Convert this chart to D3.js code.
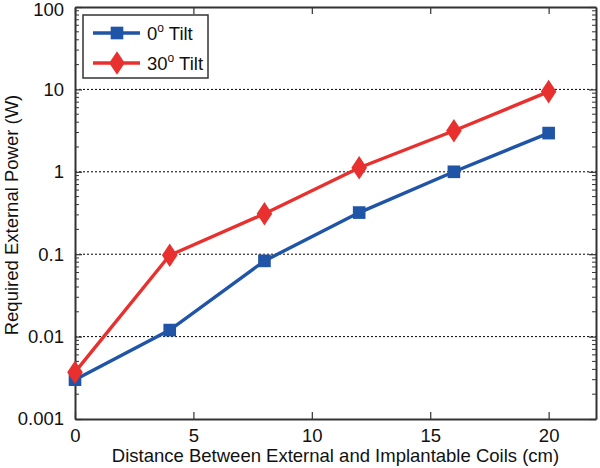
<!DOCTYPE html>
<html><head><meta charset="utf-8">
<script src="https://cdn.jsdelivr.net/npm/d3@7"></script>
<style>body{margin:0;background:#fff}svg{display:block}text{font-family:"Liberation Sans",Arial,sans-serif;fill:#111}</style>
</head><body><svg id="c" width="600" height="468"></svg>
<script>
const distances = [0, 4, 8, 12, 16, 20];
const tilt0 = [0.003, 0.012, 0.083, 0.32, 1.0, 2.95];
const tilt30 = [0.0037, 0.097, 0.31, 1.12, 3.15, 9.4];
const xTicks = [0, 5, 10, 15, 20];
const yTicks = [0.001, 0.01, 0.1, 1, 10, 100];
const yTickLabels = ["0.001", "0.01", "0.1", "1", "10", "100"];
const seriesNames = ["0\u00B0 Tilt", "30\u00B0 Tilt"];

const svg = d3.select("#c");
const L = 75, R = 596, T = 7, B = 419;
const x = d3.scaleLinear().domain([0, 22]).range([L, R]);
const y = d3.scaleLog().domain([0.001, 100]).range([B, T]);
const axisCol = "#333";
const FS = "18.5px";

// grid
svg.append("g").selectAll("line").data(yTicks.slice(1, -1)).join("line")
  .attr("x1", L).attr("x2", R).attr("y1", d => y(d)).attr("y2", d => y(d))
  .attr("stroke", "#000").attr("stroke-width", 1).attr("stroke-dasharray", "2,2");

// minor ticks
const minors = [];
for (let e = -3; e < 2; e++) for (let m = 2; m <= 9; m++) minors.push(m * Math.pow(10, e));

// axes
const gL = svg.append("g").attr("transform", `translate(${L},0)`)
  .call(d3.axisLeft(y).tickValues(yTicks).tickFormat((d, i) => yTickLabels[i]).tickSizeInner(-7).tickSizeOuter(0).tickPadding(11));
const gR = svg.append("g").attr("transform", `translate(${R},0)`)
  .call(d3.axisRight(y).tickValues(yTicks).tickFormat("").tickSizeInner(-7).tickSizeOuter(0));
const gB = svg.append("g").attr("transform", `translate(0,${B})`)
  .call(d3.axisBottom(x).tickValues(xTicks).tickSizeInner(-7).tickSizeOuter(0).tickPadding(10));
const gT = svg.append("g").attr("transform", `translate(0,${T})`)
  .call(d3.axisTop(x).tickValues(xTicks).tickFormat("").tickSizeInner(-7).tickSizeOuter(0));
[gL, gR].forEach((g, k) => {
  g.selectAll(".minor").data(minors).join("line").attr("class", "minor")
    .attr("x1", 0).attr("x2", k === 0 ? 4 : -4).attr("y1", d => y(d)).attr("y2", d => y(d))
    .attr("stroke", axisCol).attr("stroke-width", 1);
});
[gL, gR, gB, gT].forEach(g => {
  g.select(".domain").attr("stroke", axisCol).attr("stroke-width", 2);
  g.selectAll(".tick line").attr("stroke", axisCol).attr("stroke-width", 1.2);
  g.selectAll("text").style("font-size", FS).attr("fill", "#111");
});
gL.selectAll(".tick text").filter(d => d === 100).attr("dy", "0.45em");

// lines
const line = d3.line().x((d, i) => x(distances[i])).y(d => y(d));
const colors = ["#1f54a6", "#e8312f"];
[tilt0, tilt30].forEach((vals, k) => {
  svg.append("path").datum(vals).attr("d", line).attr("fill", "none")
    .attr("stroke", colors[k]).attr("stroke-width", 3.4);
});
const sq = d3.symbol().type(d3.symbolSquare).size(160);
const dm = d3.symbol().type(d3.symbolDiamond).size(160);
svg.append("g").selectAll("path").data(tilt0).join("path")
  .attr("d", sq).attr("transform", (d, i) => `translate(${x(distances[i])},${y(d)})`)
  .attr("fill", colors[0]);
svg.append("g").selectAll("path").data(tilt30).join("path")
  .attr("d", dm).attr("transform", (d, i) => `translate(${x(distances[i])},${y(d)}) scale(1.15,1)`)
  .attr("fill", colors[1]);

// legend
const lg = svg.append("g");
lg.append("rect").attr("x", 83).attr("y", 15).attr("width", 125).attr("height", 63)
  .attr("fill", "#fff").attr("stroke", axisCol).attr("stroke-width", 1.5);
[33, 63].forEach((ly, k) => {
  lg.append("line").attr("x1", 93).attr("x2", 140).attr("y1", ly).attr("y2", ly)
    .attr("stroke", colors[k]).attr("stroke-width", 3.4);
  lg.append("path").attr("d", k === 0 ? sq : dm)
    .attr("transform", `translate(117,${ly})` + (k === 1 ? " scale(1.15,1)" : "")).attr("fill", colors[k]);
  const t = lg.append("text").attr("x", 147).attr("y", ly + 7).style("font-size", FS);
  const parts = seriesNames[k].split("\u00B0");
  t.append("tspan").text(parts[0]);
  t.append("tspan").text("o").attr("dy", -8).style("font-size", "12px");
  t.append("tspan").text(parts[1]).attr("dy", 8);
});

// axis labels
svg.append("text").attr("x", (L + R) / 2 + 0).attr("y", 462).attr("text-anchor", "middle")
  .style("font-size", FS).text("Distance Between External and Implantable Coils (cm)");
svg.append("text").attr("transform", `translate(18,${(T + B) / 2 + 2}) rotate(-90)`)
  .attr("text-anchor", "middle").style("font-size", FS).text("Required External Power (W)");
</script></body></html>
